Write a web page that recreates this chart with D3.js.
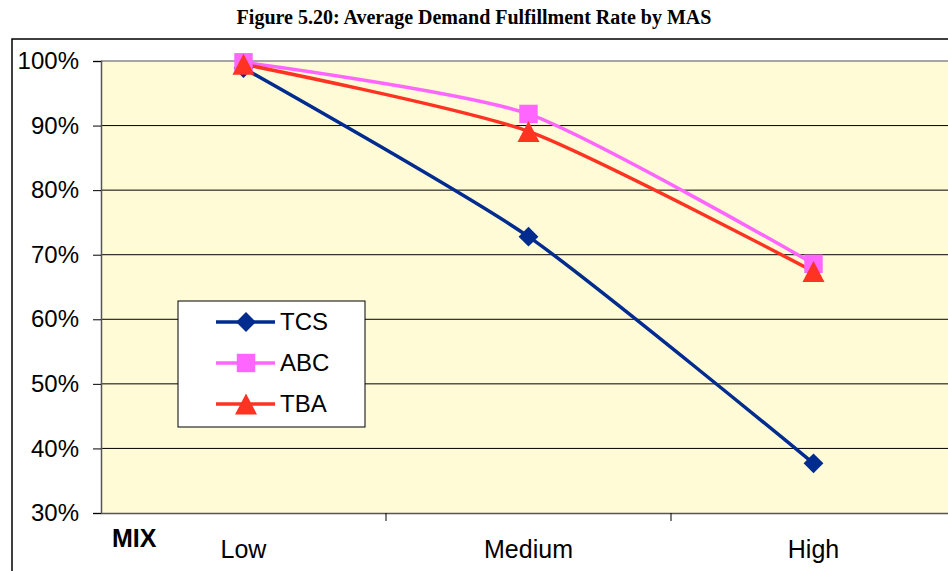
<!DOCTYPE html>
<html>
<head>
<meta charset="utf-8">
<script src="https://cdn.jsdelivr.net/npm/d3@7"></script>
<style>
  body { margin: 0; background: #fff; }
  svg { display: block; }
</style>
</head>
<body>
<svg id="chart" width="948" height="571"></svg>
<script>
// chart data
var categories = ["Low", "Medium", "High"];
var seriesNames = ["TCS", "ABC", "TBA"];
var tcsValues = [98.9, 72.8, 37.7];
var abcValues = [99.8, 91.8, 68.6];
var tbaValues = [99.5, 89.1, 67.4];
var yTicks = [30, 40, 50, 60, 70, 80, 90, 100];

var series = [
    {name: "TCS", values: tcsValues, color: "#002C8F", marker: "diamond"},
    {name: "ABC", values: abcValues, color: "#FF66FF", marker: "square"},
    {name: "TBA", values: tbaValues, color: "#FF3322", marker: "triangle"}
];

var svg = d3.select("#chart");
var plotLeft = 101, plotTop = 61, plotRight = 956, plotBottom = 513;
var sans = "'Liberation Sans', Arial, sans-serif";

// title
svg.append("text")
    .attr("x", 474).attr("y", 24)
    .attr("text-anchor", "middle")
    .style("font-family", "'Liberation Serif', 'Times New Roman', serif")
    .style("font-weight", "bold")
    .style("font-size", "20px")
    .text("Figure 5.20: Average Demand Fulfillment Rate by MAS");

// chart border
svg.append("rect")
    .attr("x", 12).attr("y", 39)
    .attr("width", 960).attr("height", 560)
    .attr("fill", "none").attr("stroke", "#000").attr("stroke-width", 1.5);

var x = d3.scaleBand().domain(categories).range([plotLeft, plotRight]);
var y = d3.scaleLinear().domain([30, 100]).range([plotBottom, plotTop]);

// plot area
svg.append("rect")
    .attr("x", plotLeft).attr("y", plotTop)
    .attr("width", plotRight - plotLeft).attr("height", plotBottom - plotTop)
    .attr("fill", "#FFFBD7");

// gridlines
svg.append("g").selectAll("line")
    .data(yTicks.filter(function(d) { return d > 30 && d < 100; }))
  .enter().append("line")
    .attr("x1", plotLeft).attr("x2", plotRight)
    .attr("y1", function(d) { return y(d); })
    .attr("y2", function(d) { return y(d); })
    .attr("stroke", "#000").attr("stroke-width", 1);

svg.append("line")
    .attr("x1", plotLeft).attr("x2", plotRight)
    .attr("y1", plotTop).attr("y2", plotTop)
    .attr("stroke", "#888").attr("stroke-width", 1.5);

// y axis
var yAxis = d3.axisLeft(y)
    .tickValues(yTicks)
    .tickSize(8)
    .tickPadding(14)
    .tickFormat(function(d) { return d + "%"; });

var gy = svg.append("g")
    .attr("transform", "translate(" + plotLeft + ",0)")
    .call(yAxis);
gy.select(".domain").attr("stroke", "#555").attr("stroke-width", 1.5);
gy.selectAll(".tick line").attr("stroke", "#000");
gy.selectAll("text")
    .attr("fill", "#000")
    .style("font-family", sans)
    .style("font-size", "24px");

// x axis
var xAxis = d3.axisBottom(x).tickSize(0).tickPadding(0);
var gx = svg.append("g")
    .attr("transform", "translate(0," + plotBottom + ")")
    .call(xAxis);
gx.select(".domain").attr("stroke", "#555").attr("stroke-width", 1.5);
gx.selectAll("text")
    .attr("y", 45).attr("dy", null)
    .attr("fill", "#000")
    .style("font-family", sans)
    .style("font-size", "25px");

// category separators
svg.append("g").selectAll("line")
    .data(categories.slice(1))
  .enter().append("line")
    .attr("x1", function(d) { return x(d); })
    .attr("x2", function(d) { return x(d); })
    .attr("y1", plotBottom).attr("y2", plotBottom + 8)
    .attr("stroke", "#000");

svg.append("text")
    .attr("x", 112).attr("y", 547)
    .style("font-family", sans)
    .style("font-weight", "bold")
    .style("font-size", "25px")
    .text("MIX");

// lines
var line = d3.line()
    .x(function(d, i) { return x(categories[i]) + x.bandwidth() / 2; })
    .y(function(d) { return y(d); })
    .curve(d3.curveCardinal.tension(0.35));

function markerPath(type) {
    if (type === "diamond") return d3.symbol().type(d3.symbolDiamond2).size(250)();
    if (type === "square") return d3.symbol().type(d3.symbolSquare).size(340)();
    // triangle centred on its bounding box
    var s = 22, h = 21;
    return "M0," + (-h / 2) + "L" + (s / 2) + "," + (h / 2) + "L" + (-s / 2) + "," + (h / 2) + "Z";
}

series.forEach(function(s) {
    svg.append("path")
        .datum(s.values)
        .attr("d", line)
        .attr("fill", "none")
        .attr("stroke", s.color)
        .attr("stroke-width", 3.5);
});

series.forEach(function(s) {
    svg.append("g").selectAll("path")
        .data(s.values)
      .enter().append("path")
        .attr("d", markerPath(s.marker))
        .attr("transform", function(d, i) {
            return "translate(" + (x(categories[i]) + x.bandwidth() / 2) + "," + y(d) + ")";
        })
        .attr("fill", s.color);
});

// legend
var legend = svg.append("g");
legend.append("rect")
    .attr("x", 178).attr("y", 301)
    .attr("width", 187).attr("height", 126)
    .attr("fill", "#fff").attr("stroke", "#000").attr("stroke-width", 1);

series.forEach(function(s, i) {
    var ly = 322 + i * 41;
    legend.append("line")
        .attr("x1", 216).attr("x2", 275)
        .attr("y1", ly).attr("y2", ly)
        .attr("stroke", s.color).attr("stroke-width", 3.5);
    legend.append("path")
        .attr("d", markerPath(s.marker))
        .attr("transform", "translate(246," + ly + ")")
        .attr("fill", s.color);
    legend.append("text")
        .attr("x", 280).attr("y", ly + 8)
        .style("font-family", sans)
        .style("font-size", "24px")
        .text(seriesNames[i]);
});
</script>
</body>
</html>
